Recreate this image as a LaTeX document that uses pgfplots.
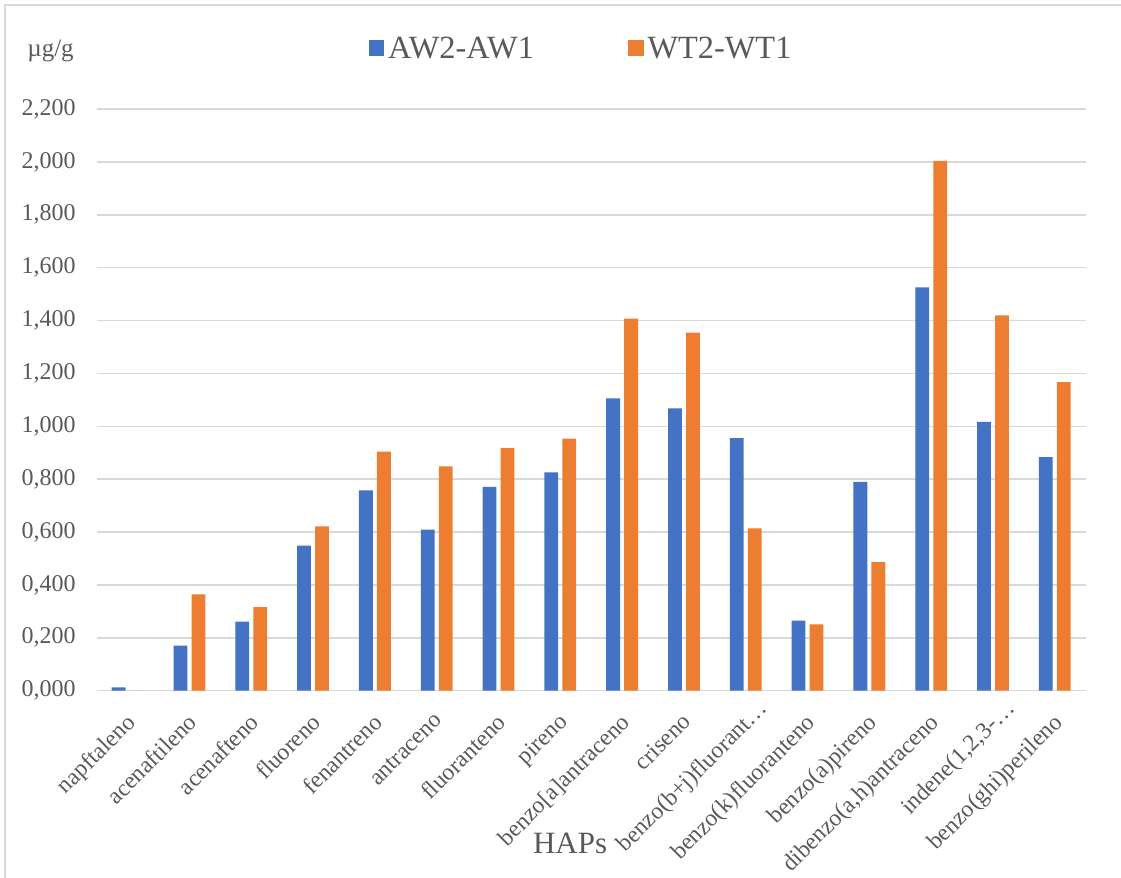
\documentclass[border=0pt]{standalone}
\usepackage{fontspec}
\setmainfont{Liberation Serif}
\usepackage{pgfplots}
\pgfplotsset{compat=1.18}
\definecolor{cblue}{HTML}{4472C4}
\definecolor{corange}{HTML}{ED7D31}
\definecolor{cgrid}{HTML}{D9D9D9}
\definecolor{ctext}{HTML}{595959}
\begin{document}
\begin{tikzpicture}
\useasboundingbox (0,0) rectangle (560.5pt,439pt);
\draw[cgrid, line width=0.75pt] (2.5pt,0) -- (2.5pt,436.5pt) -- (560.5pt,436.5pt);
\begin{axis}[
  at={(48.35pt,93.65pt)}, anchor=south west,
  scale only axis, width=494.5pt, height=290.85pt,
  ybar=2.1pt, bar width=6.9pt,
  xmin=-0.5, xmax=15.5, ymin=0, ymax=2.2,
  xtick={0,1,2,3,4,5,6,7,8,9,10,11,12,13,14,15},
  xticklabels={napftaleno,acenaftileno,acenafteno,fluoreno,fenantreno,antraceno,fluoranteno,pireno,{benzo[a]antraceno},criseno,{benzo(b+j)fluorant…\kern-10pt},benzo(k)fluoranteno,benzo(a)pireno,{dibenzo(a,h)antraceno},{indene(1,2,3-…\kern-10pt},benzo(ghi)perileno},
  ytick={0,0.2,0.4,0.6,0.8,1,1.2,1.4,1.6,1.8,2,2.2},
  ymajorgrids, grid style={cgrid, line width=0.75pt},
  axis line style={draw=none}, major tick length=0pt,
  tick label style={text=ctext},
  yticklabel style={font=\fontsize{12}{14}\selectfont, anchor=east, inner sep=0pt, xshift=-10.35pt,
    /pgf/number format/.cd, fixed, fixed zerofill, precision=3, use comma, assume math mode=true},
  xticklabel style={font=\fontsize{11.8}{14}\selectfont, yshift=-10.5pt, xshift=-1.5pt, rotate=45, anchor=north east, inner sep=0pt},
  every axis x label/.style={at={(axis description cs:0.4786,0)}, anchor=base, yshift=-81.65pt, font=\fontsize{15.5}{18}\selectfont, text=ctext},
  every axis y label/.style={at={(axis description cs:0,1)}, anchor=base west, inner sep=0pt, xshift=-34.85pt, yshift=26pt, font=\fontsize{12.5}{14}\selectfont, text=ctext},
  xlabel={HAPs}, ylabel={µg/g},
  legend style={draw=none, fill=none, at={(axis description cs:0.4907,1.1031)}, anchor=center,
    font=\fontsize{16.2}{18}\selectfont, text=ctext,
    /tikz/every even column/.append style={column sep=45pt}},
  legend columns=2,
  legend image code/.code={\fill[#1] (-1pt,-3.4pt) rectangle (6.75pt,4.35pt);},
]
\addplot[fill=cblue, draw=none] coordinates {(0,0.013) (1,0.170) (2,0.261) (3,0.549) (4,0.758) (5,0.609) (6,0.771) (7,0.826) (8,1.106) (9,1.068) (10,0.955) (11,0.265) (12,0.790) (13,1.525) (14,1.017) (15,0.883)};
\addlegendentry{AW2-AW1}
\addplot[fill=corange, draw=none] coordinates {(0,0) (1,0.364) (2,0.316) (3,0.621) (4,0.904) (5,0.848) (6,0.917) (7,0.953) (8,1.407) (9,1.354) (10,0.614) (11,0.251) (12,0.486) (13,2.004) (14,1.419) (15,1.167)};
\addlegendentry{WT2-WT1}
\end{axis}
\end{tikzpicture}
\end{document}
